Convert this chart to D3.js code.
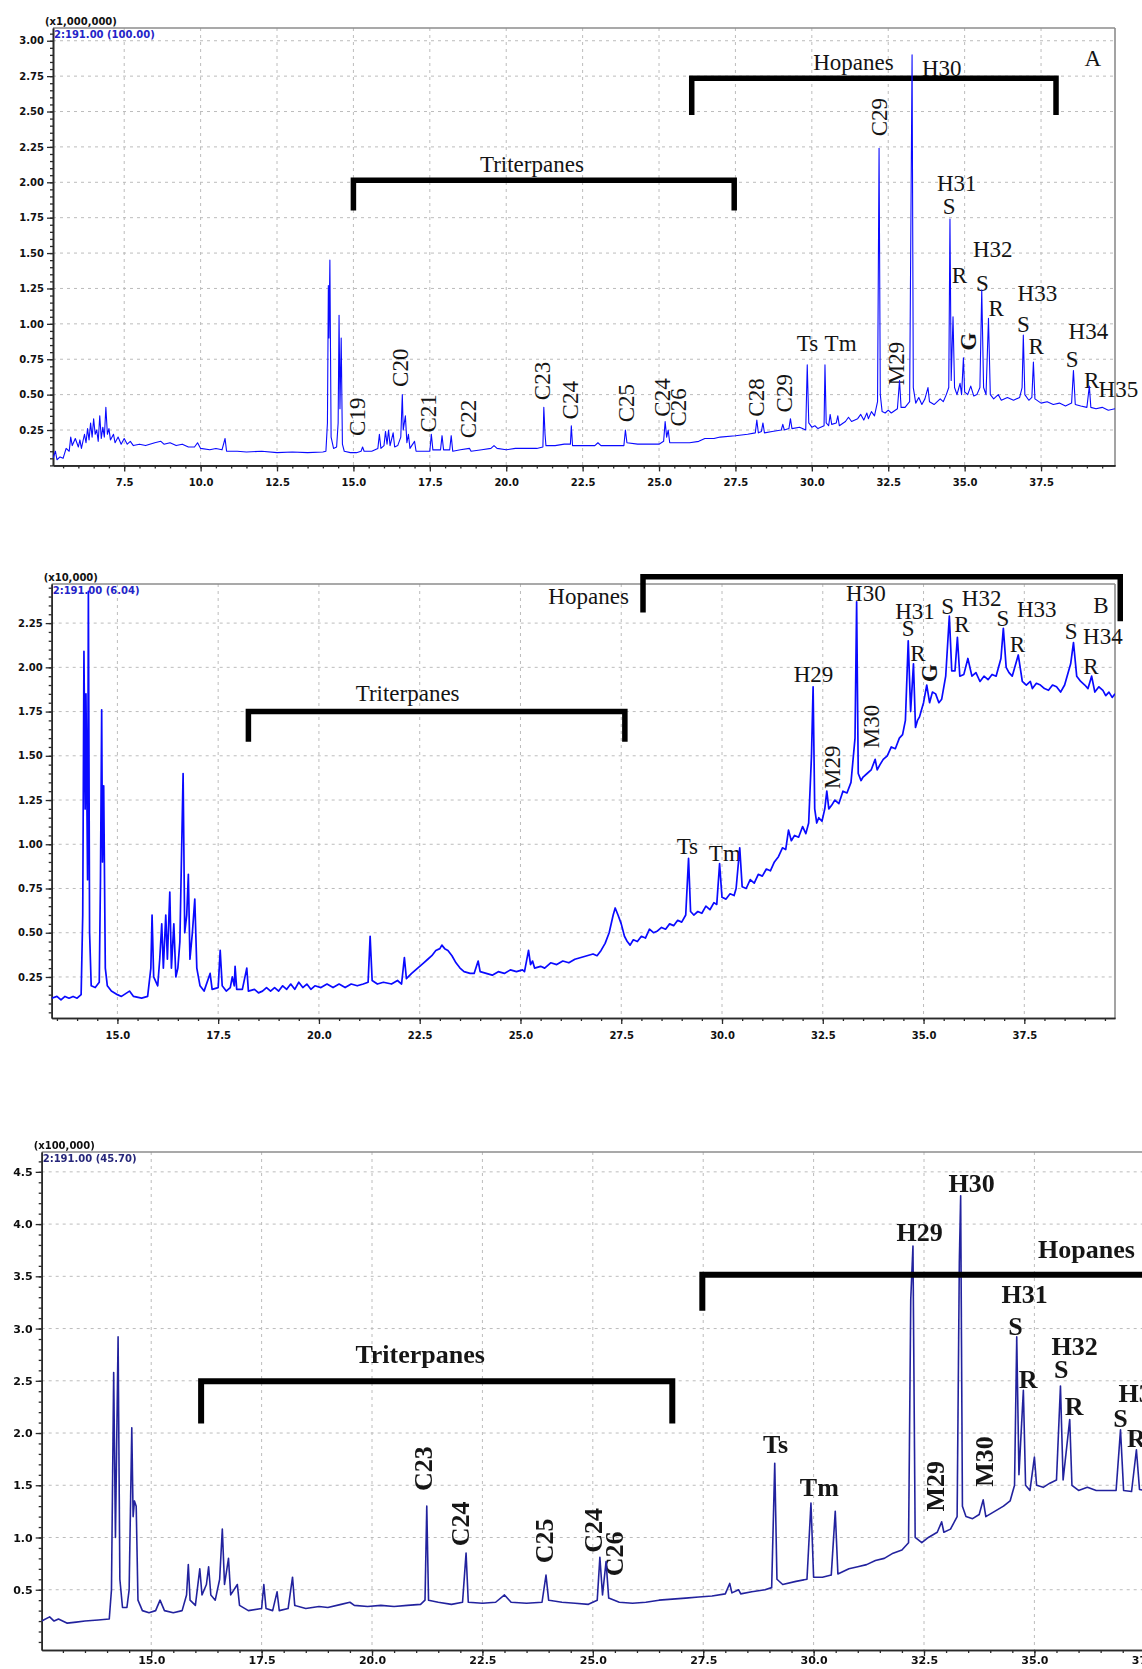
<!DOCTYPE html>
<html>
<head>
<meta charset="utf-8">
<script src="https://cdn.jsdelivr.net/npm/d3@7"></script>
<style>
  html, body { margin: 0; padding: 0; background: #ffffff; }
  svg { display: block; }
</style>
</head>
<body>
<svg id="chart" width="1142" height="1669"></svg>
<script>
// ================= Panel A : m/z 191 (x1,000,000) =================
const traceA = [
  [5.17,0.05],[5.25,0.10],[5.3,0.04],[5.4,0.06],[5.5,0.05],[5.6,0.12],[5.7,0.10],[5.75,0.20],[5.8,0.14],[5.9,0.19],
  [6.0,0.13],[6.05,0.18],[6.1,0.12],[6.2,0.22],[6.25,0.16],[6.3,0.26],[6.35,0.18],[6.4,0.30],[6.45,0.20],[6.5,0.33],
  [6.55,0.22],[6.6,0.25],[6.65,0.17],[6.7,0.35],[6.75,0.19],[6.8,0.27],[6.85,0.20],[6.9,0.41],[6.95,0.22],[7.0,0.26],
  [7.05,0.18],[7.15,0.22],[7.2,0.16],[7.3,0.20],[7.4,0.15],[7.5,0.19],[7.6,0.15],[7.7,0.17],[7.8,0.14],[8.0,0.15],
  [8.2,0.14],[8.5,0.16],[8.7,0.17],[8.8,0.15],[9.0,0.16],[9.2,0.14],[9.4,0.15],[9.6,0.13],[9.8,0.13],[9.9,0.16],
  [10.0,0.12],[10.3,0.11],[10.5,0.12],[10.7,0.11],[10.8,0.19],[10.85,0.10],[11.2,0.10],[11.5,0.095],[12.0,0.10],[12.5,0.09],
  [13.0,0.095],[13.5,0.09],[14.0,0.095],[14.1,0.10],
  [14.15,0.30],[14.18,1.27],[14.2,0.90],[14.23,1.45],[14.27,0.20],[14.35,0.12],[14.45,0.13],[14.5,0.30],[14.53,1.06],[14.56,0.40],
  [14.6,0.90],[14.64,0.15],[14.7,0.10],[14.9,0.09],[15.1,0.09],[15.25,0.10],[15.3,0.13],[15.35,0.10],[15.6,0.10],[15.8,0.12],
  [15.85,0.22],[15.9,0.12],[16.0,0.14],[16.05,0.24],[16.1,0.15],[16.15,0.25],[16.2,0.14],[16.3,0.23],[16.35,0.13],[16.45,0.14],
  [16.55,0.20],[16.6,0.50],[16.63,0.25],[16.7,0.35],[16.75,0.16],[16.8,0.22],[16.85,0.12],[17.0,0.17],[17.05,0.10],[17.3,0.10],
  [17.5,0.10],[17.55,0.22],[17.6,0.11],[17.85,0.11],[17.9,0.21],[17.95,0.11],[18.15,0.11],[18.2,0.21],[18.25,0.10],[18.5,0.11],
  [18.8,0.12],[18.85,0.10],[19.2,0.11],[19.5,0.12],[19.6,0.14],[19.7,0.12],[20.0,0.11],[20.3,0.12],[20.6,0.12],[21.0,0.12],
  [21.2,0.13],[21.23,0.41],[21.27,0.22],[21.3,0.14],[21.6,0.14],[21.9,0.15],[22.1,0.15],[22.13,0.28],[22.17,0.14],[22.5,0.14],
  [22.9,0.14],[23.0,0.16],[23.1,0.14],[23.5,0.14],[23.85,0.14],[23.9,0.25],[23.95,0.16],[24.3,0.15],[24.7,0.15],[25.0,0.15],
  [25.15,0.17],[25.2,0.31],[25.25,0.20],[25.3,0.25],[25.35,0.16],[25.7,0.16],[26.0,0.16],[26.3,0.17],[26.5,0.19],[26.8,0.19],
  [27.0,0.20],[27.5,0.21],[27.9,0.22],[28.15,0.23],[28.2,0.32],[28.25,0.23],[28.35,0.24],[28.4,0.30],[28.45,0.23],[28.7,0.24],
  [29.0,0.25],[29.05,0.29],[29.1,0.25],[29.25,0.26],[29.3,0.33],[29.35,0.26],[29.6,0.27],[29.8,0.25],[29.85,0.71],[29.9,0.30],
  [30.0,0.27],[30.1,0.28],[30.2,0.26],[30.4,0.28],[30.43,0.71],[30.47,0.30],[30.55,0.28],[30.6,0.36],[30.65,0.29],[30.8,0.30],
  [30.85,0.35],[30.9,0.28],[31.1,0.31],[31.2,0.34],[31.3,0.31],[31.5,0.33],[31.6,0.36],[31.7,0.32],[31.8,0.37],[31.85,0.33],
  [31.95,0.38],[32.05,0.35],[32.15,0.45],[32.2,2.24],[32.24,0.50],[32.3,0.38],[32.4,0.37],[32.5,0.39],[32.6,0.37],[32.8,0.40],
  [32.87,0.60],[32.92,0.41],[33.05,0.41],[33.2,0.45],[33.28,2.90],[33.32,0.55],[33.4,0.44],[33.5,0.48],[33.6,0.43],[33.7,0.47],
  [33.8,0.55],[33.85,0.45],[34.0,0.43],[34.2,0.47],[34.3,0.45],[34.4,0.50],[34.48,0.55],[34.52,1.74],[34.56,0.60],[34.62,1.05],
  [34.67,0.55],[34.75,0.50],[34.85,0.58],[34.9,0.50],[34.96,0.76],[35.0,0.52],[35.1,0.50],[35.2,0.56],[35.3,0.49],[35.4,0.50],
  [35.5,0.55],[35.56,1.24],[35.62,0.55],[35.7,0.50],[35.78,1.04],[35.84,0.50],[35.95,0.47],[36.1,0.50],[36.2,0.46],[36.4,0.48],
  [36.6,0.46],[36.8,0.48],[36.88,0.55],[36.92,0.92],[36.97,0.50],[37.1,0.46],[37.2,0.48],[37.25,0.73],[37.3,0.47],[37.5,0.44],
  [37.7,0.45],[37.9,0.43],[38.1,0.44],[38.3,0.42],[38.5,0.44],[38.56,0.67],[38.62,0.43],[38.8,0.42],[39.0,0.41],[39.08,0.56],
  [39.13,0.41],[39.3,0.40],[39.5,0.41],[39.7,0.39],[39.92,0.40]
];
const xTicksA = [7.5, 10.0, 12.5, 15.0, 17.5, 20.0, 22.5, 25.0, 27.5, 30.0, 32.5, 35.0, 37.5];
const yTicksA = [0.25, 0.50, 0.75, 1.00, 1.25, 1.50, 1.75, 2.00, 2.25, 2.50, 2.75, 3.00];
const peakLabelsA = [
  {text:"Hopanes", t:31.36, v:2.846}, {text:"H30", t:34.25, v:2.806}, {text:"A", t:39.19, v:2.877},
  {text:"Triterpanes", t:20.84, v:2.123},
  {text:"C29", t:32.2, v:2.46, rotate:true},
  {text:"C19", t:15.14, v:0.344, rotate:true}, {text:"C20", t:16.55, v:0.69, rotate:true},
  {text:"C21", t:17.45, v:0.368, rotate:true}, {text:"C22", t:18.77, v:0.328, rotate:true},
  {text:"C23", t:21.2, v:0.596, rotate:true}, {text:"C24", t:22.1, v:0.46, rotate:true},
  {text:"C25", t:23.95, v:0.44, rotate:true}, {text:"C24", t:25.1, v:0.48, rotate:true},
  {text:"C26", t:25.63, v:0.41, rotate:true}, {text:"C28", t:28.18, v:0.48, rotate:true},
  {text:"C29", t:29.1, v:0.51, rotate:true},
  {text:"Ts", t:29.86, v:0.863}, {text:"Tm", t:30.94, v:0.863},
  {text:"M29", t:32.78, v:0.72, rotate:true},
  {text:"H31", t:34.74, v:1.99}, {text:"S", t:34.49, v:1.83}, {text:"R", t:34.83, v:1.345},
  {text:"G", t:35.12, v:0.874, rotate:true, bold:true},
  {text:"H32", t:35.92, v:1.522}, {text:"S", t:35.58, v:1.287}, {text:"R", t:36.03, v:1.11},
  {text:"H33", t:37.38, v:1.216}, {text:"S", t:36.92, v:0.992}, {text:"R", t:37.34, v:0.839},
  {text:"H34", t:39.05, v:0.945}, {text:"S", t:38.52, v:0.75}, {text:"R", t:39.16, v:0.60},
  {text:"H35", t:40.03, v:0.533}
];
const bracketsA = [
  {t0:15.0, t1:27.46, top:2.015, foot0:1.80, foot1:1.80},
  {t0:26.07, t1:37.99, top:2.735, foot0:2.476, foot1:2.476}
];

// ================= Panel B : m/z 191 (x10,000) =================
const traceB = [
  [13.37,0.13],[13.5,0.14],[13.6,0.12],[13.7,0.14],[13.8,0.13],[13.9,0.14],[14.0,0.13],[14.1,0.15],[14.14,0.60],[14.17,2.09],
  [14.2,1.20],[14.22,1.85],[14.26,0.80],[14.28,2.43],[14.31,0.50],[14.35,0.20],[14.45,0.19],[14.55,0.22],[14.58,0.80],[14.61,1.76],
  [14.63,0.90],[14.66,1.33],[14.7,0.30],[14.75,0.20],[14.85,0.17],[15.0,0.15],[15.1,0.14],[15.3,0.17],[15.4,0.14],[15.6,0.13],
  [15.75,0.14],[15.83,0.30],[15.86,0.60],[15.9,0.25],[16.0,0.20],[16.05,0.35],[16.1,0.55],[16.14,0.30],[16.2,0.60],[16.24,0.35],
  [16.3,0.73],[16.34,0.30],[16.4,0.55],[16.45,0.25],[16.5,0.30],[16.55,0.45],[16.63,1.40],[16.67,0.50],[16.72,0.60],[16.76,0.83],
  [16.8,0.35],[16.86,0.50],[16.92,0.69],[16.97,0.30],[17.05,0.20],[17.15,0.17],[17.3,0.27],[17.35,0.18],[17.5,0.19],[17.55,0.40],
  [17.6,0.20],[17.7,0.17],[17.8,0.19],[17.85,0.25],[17.9,0.20],[17.92,0.31],[17.96,0.18],[18.1,0.18],[18.21,0.30],[18.25,0.17],
  [18.4,0.18],[18.5,0.16],[18.6,0.17],[18.7,0.19],[18.8,0.17],[18.9,0.19],[19.0,0.17],[19.1,0.20],[19.2,0.18],[19.3,0.21],
  [19.4,0.18],[19.5,0.22],[19.6,0.19],[19.7,0.21],[19.8,0.18],[19.9,0.20],[20.05,0.19],[20.2,0.21],[20.35,0.19],[20.5,0.21],
  [20.65,0.19],[20.8,0.21],[20.95,0.20],[21.1,0.21],[21.22,0.22],[21.27,0.48],[21.32,0.23],[21.45,0.21],[21.6,0.22],[21.8,0.21],
  [21.95,0.23],[22.05,0.21],[22.12,0.36],[22.17,0.24],[22.3,0.27],[22.4,0.29],[22.5,0.31],[22.6,0.33],[22.7,0.35],[22.8,0.37],
  [22.9,0.40],[23.0,0.41],[23.05,0.43],[23.12,0.41],[23.2,0.40],[23.3,0.37],[23.4,0.33],[23.5,0.30],[23.6,0.28],[23.75,0.27],
  [23.85,0.27],[23.95,0.34],[24.0,0.28],[24.15,0.27],[24.3,0.26],[24.45,0.28],[24.6,0.27],[24.75,0.29],[24.9,0.28],[25.05,0.29],
  [25.1,0.28],[25.2,0.40],[25.25,0.32],[25.3,0.34],[25.35,0.30],[25.5,0.31],[25.6,0.30],[25.75,0.33],[25.9,0.32],[26.05,0.34],
  [26.2,0.33],[26.35,0.35],[26.5,0.36],[26.65,0.37],[26.8,0.38],[26.9,0.37],[27.0,0.40],[27.1,0.44],[27.2,0.50],[27.3,0.60],
  [27.35,0.64],[27.42,0.60],[27.5,0.55],[27.58,0.48],[27.65,0.45],[27.72,0.43],[27.8,0.46],[27.9,0.45],[28.0,0.48],[28.1,0.47],
  [28.2,0.52],[28.3,0.50],[28.4,0.51],[28.5,0.53],[28.6,0.52],[28.7,0.55],[28.8,0.54],[28.9,0.57],[29.0,0.56],[29.1,0.60],
  [29.17,0.92],[29.22,0.62],[29.3,0.60],[29.4,0.62],[29.5,0.61],[29.6,0.65],[29.7,0.63],[29.8,0.67],[29.87,0.66],[29.94,0.89],
  [30.0,0.70],[30.1,0.69],[30.2,0.72],[30.3,0.71],[30.35,0.75],[30.44,0.98],[30.5,0.76],[30.6,0.75],[30.7,0.80],[30.8,0.78],
  [30.9,0.83],[31.0,0.82],[31.1,0.86],[31.2,0.85],[31.3,0.90],[31.4,0.93],[31.5,0.98],[31.58,0.97],[31.65,1.08],[31.72,1.02],
  [31.8,1.05],[31.9,1.04],[32.0,1.10],[32.08,1.06],[32.15,1.12],[32.22,1.50],[32.26,1.89],[32.3,1.20],[32.35,1.12],[32.4,1.15],
  [32.48,1.13],[32.55,1.20],[32.6,1.30],[32.65,1.20],[32.72,1.22],[32.8,1.25],[32.9,1.23],[33.0,1.30],[33.1,1.29],[33.2,1.35],
  [33.3,1.60],[33.34,2.37],[33.38,1.40],[33.45,1.36],[33.5,1.38],[33.6,1.40],[33.7,1.42],[33.8,1.48],[33.85,1.42],[33.92,1.45],
  [34.0,1.48],[34.1,1.50],[34.2,1.55],[34.3,1.54],[34.4,1.60],[34.48,1.62],[34.55,1.70],[34.62,2.15],[34.68,1.75],[34.75,2.02],
  [34.8,1.66],[34.85,1.70],[34.9,1.72],[34.95,1.76],[35.0,1.80],[35.08,1.90],[35.15,1.80],[35.22,1.86],[35.3,1.85],[35.38,1.80],
  [35.45,1.82],[35.55,1.95],[35.64,2.29],[35.7,1.98],[35.78,1.98],[35.84,2.17],[35.9,1.95],[36.0,1.96],[36.1,2.05],[36.2,1.95],
  [36.3,1.97],[36.4,1.92],[36.5,1.95],[36.6,1.93],[36.7,1.96],[36.8,1.95],[36.92,2.05],[36.98,2.22],[37.05,2.00],[37.12,1.97],
  [37.2,1.95],[37.35,2.07],[37.45,1.92],[37.55,1.90],[37.65,1.92],[37.7,1.88],[37.8,1.91],[37.9,1.90],[38.0,1.88],[38.1,1.87],
  [38.2,1.90],[38.3,1.89],[38.4,1.86],[38.5,1.90],[38.65,2.02],[38.72,2.14],[38.8,1.95],[38.9,1.92],[39.0,1.90],[39.08,1.88],
  [39.17,1.95],[39.25,1.86],[39.35,1.89],[39.45,1.87],[39.52,1.84],[39.6,1.86],[39.68,1.83],[39.75,1.85]
];
const xTicksB = [15.0, 17.5, 20.0, 22.5, 25.0, 27.5, 30.0, 32.5, 35.0, 37.5];
const yTicksB = [0.25, 0.50, 0.75, 1.00, 1.25, 1.50, 1.75, 2.00, 2.25];
const peakLabelsB = [
  {text:"Hopanes", t:26.69, v:2.398}, {text:"Triterpanes", t:22.2, v:1.85}, {text:"B", t:39.4, v:2.347},
  {text:"Ts", t:29.14, v:0.99}, {text:"Tm", t:30.07, v:0.947},
  {text:"H29", t:32.27, v:1.957}, {text:"M29", t:32.74, v:1.435, rotate:true},
  {text:"H30", t:33.57, v:2.419}, {text:"M30", t:33.71, v:1.665, rotate:true},
  {text:"H31", t:34.79, v:2.315}, {text:"S", t:34.62, v:2.221}, {text:"R", t:34.86, v:2.08},
  {text:"G", t:35.16, v:1.967, rotate:true, bold:true},
  {text:"S", t:35.6, v:2.343}, {text:"H32", t:36.44, v:2.39}, {text:"R", t:35.95, v:2.24},
  {text:"S", t:36.97, v:2.278}, {text:"H33", t:37.81, v:2.325}, {text:"R", t:37.33, v:2.127},
  {text:"S", t:38.66, v:2.202}, {text:"H34", t:39.45, v:2.174}, {text:"R", t:39.15, v:2.004}
];
const bracketsB = [
  {t0:18.25, t1:27.59, top:1.75, foot0:1.58, foot1:1.58},
  {t0:28.04, t1:39.88, top:2.512, foot0:2.31, foot1:2.26}
];

// ================= Panel C : m/z 191 (x100,000) =================
const traceC = [
  [12.52,0.20],[12.7,0.24],[12.8,0.20],[12.9,0.22],[13.1,0.18],[13.3,0.19],[13.5,0.20],[13.8,0.21],[14.05,0.22],[14.1,0.50],
  [14.15,2.58],[14.19,1.00],[14.25,2.92],[14.29,0.60],[14.35,0.33],[14.45,0.33],[14.5,0.50],[14.56,2.05],[14.59,1.20],[14.62,1.35],
  [14.66,1.30],[14.7,0.40],[14.8,0.30],[14.95,0.28],[15.1,0.30],[15.2,0.40],[15.3,0.30],[15.5,0.28],[15.7,0.30],[15.8,0.45],
  [15.84,0.74],[15.88,0.40],[16.0,0.35],[16.1,0.70],[16.15,0.45],[16.25,0.55],[16.3,0.72],[16.35,0.45],[16.45,0.40],[16.55,0.60],
  [16.61,1.08],[16.66,0.55],[16.75,0.80],[16.8,0.45],[16.95,0.55],[17.0,0.35],[17.2,0.30],[17.5,0.32],[17.55,0.55],[17.6,0.32],
  [17.75,0.30],[17.85,0.48],[17.9,0.30],[18.1,0.32],[18.2,0.62],[18.25,0.35],[18.5,0.32],[18.8,0.34],[19.0,0.33],[19.3,0.36],
  [19.5,0.38],[19.6,0.35],[19.9,0.34],[20.2,0.35],[20.5,0.34],[20.8,0.35],[21.1,0.36],[21.2,0.40],[21.24,1.30],[21.28,0.40],
  [21.5,0.38],[21.8,0.36],[22.05,0.38],[22.13,0.85],[22.18,0.38],[22.5,0.37],[22.8,0.38],[23.0,0.45],[23.15,0.38],[23.5,0.37],
  [23.85,0.38],[23.94,0.64],[24.0,0.40],[24.3,0.38],[24.6,0.37],[24.9,0.36],[25.1,0.40],[25.16,0.81],[25.22,0.45],[25.3,0.77],
  [25.36,0.42],[25.6,0.38],[25.9,0.37],[26.2,0.38],[26.5,0.40],[26.8,0.41],[27.1,0.42],[27.4,0.43],[27.7,0.44],[28.0,0.46],
  [28.1,0.56],[28.15,0.47],[28.3,0.50],[28.35,0.46],[28.6,0.48],[28.9,0.50],[29.05,0.52],[29.12,1.71],[29.17,0.60],[29.3,0.55],
  [29.6,0.58],[29.85,0.60],[29.94,1.33],[30.0,0.62],[30.2,0.62],[30.4,0.64],[30.49,1.25],[30.55,0.65],[30.8,0.70],[31.0,0.72],
  [31.2,0.74],[31.4,0.78],[31.6,0.80],[31.8,0.85],[32.0,0.88],[32.15,0.95],[32.2,3.28],[32.25,3.79],[32.3,1.00],[32.45,0.95],
  [32.6,1.00],[32.8,1.05],[32.9,1.15],[32.95,1.05],[33.1,1.08],[33.25,1.20],[33.3,3.64],[33.33,4.27],[33.37,1.30],[33.45,1.20],
  [33.6,1.18],[33.75,1.22],[33.84,1.36],[33.9,1.20],[34.1,1.25],[34.3,1.30],[34.45,1.35],[34.55,1.50],[34.6,2.92],[34.65,1.60],
  [34.75,2.41],[34.8,1.50],[34.9,1.45],[35.0,1.77],[35.05,1.50],[35.2,1.48],[35.35,1.52],[35.5,1.55],[35.59,2.45],[35.65,1.55],
  [35.8,2.13],[35.85,1.50],[36.0,1.45],[36.2,1.48],[36.4,1.45],[36.6,1.45],[36.85,1.45],[36.95,2.03],[37.02,1.45],[37.2,1.44],
  [37.31,1.84],[37.38,1.46],[37.5,1.45]
];
const xTicksC = [15.0, 17.5, 20.0, 22.5, 25.0, 27.5, 30.0, 32.5, 35.0, 37.5];
const yTicksC = [0.5, 1.0, 1.5, 2.0, 2.5, 3.0, 3.5, 4.0, 4.5];
const peakLabelsC = [
  {text:"Hopanes", t:36.18, v:3.755}, {text:"Triterpanes", t:21.09, v:2.75},
  {text:"H30", t:33.58, v:4.39}, {text:"H29", t:32.4, v:3.915},
  {text:"H31", t:34.78, v:3.324}, {text:"S", t:34.57, v:3.02}, {text:"R", t:34.86, v:2.51},
  {text:"H32", t:35.91, v:2.829}, {text:"S", t:35.61, v:2.605}, {text:"R", t:35.9, v:2.254},
  {text:"H33", t:37.43, v:2.38}, {text:"S", t:36.95, v:2.14}, {text:"R", t:37.31, v:1.95},
  {text:"M29", t:32.77, v:1.49, rotate:true}, {text:"M30", t:33.88, v:1.727, rotate:true},
  {text:"Ts", t:29.14, v:1.894}, {text:"Tm", t:30.13, v:1.476},
  {text:"C23", t:21.16, v:1.66, rotate:true}, {text:"C24", t:22.0, v:1.13, rotate:true},
  {text:"C25", t:23.91, v:0.967, rotate:true}, {text:"C24", t:25.02, v:1.068, rotate:true},
  {text:"C26", t:25.5, v:0.844, rotate:true}
];
const bracketsC = [
  {t0:16.13, t1:26.8, top:2.495, foot0:2.09, foot1:2.09},
  {t0:27.48, t1:40.5, top:3.515, foot0:3.17, foot1:3.515}
];

const scaleNotes = ["(x1,000,000)", "(x10,000)", "(x100,000)"];
const ionNotes = ["2:191.00 (100.00)", "2:191.00 (6.04)", "2:191.00 (45.70)"];

// ================= drawing =================
const svg = d3.select("#chart");
const defs = svg.append("defs");
defs.append("filter").attr("id", "soft")
  .attr("x", "-2%").attr("y", "-2%").attr("width", "104%").attr("height", "104%")
  .append("feGaussianBlur").attr("stdDeviation", 0.6);

function drawPanel(cfg) {
  const g = svg.append("g").attr("class", "panel-" + cfg.id);
  if (cfg.soft) g.attr("filter", "url(#soft)");

  const x = d3.scaleLinear().domain(cfg.xDomain).range([cfg.left, cfg.right]);
  const y = d3.scaleLinear().domain(cfg.yDomain).range([cfg.bottom, cfg.top]);

  // dashed grid
  const grid = g.append("g").attr("stroke", "#bcbcbc").attr("stroke-dasharray", "3,4").attr("stroke-width", 1);
  grid.selectAll("line.gx").data(cfg.xTicks).join("line").attr("class", "gx")
    .attr("x1", d => x(d)).attr("x2", d => x(d)).attr("y1", cfg.top).attr("y2", cfg.bottom);
  grid.selectAll("line.gy").data(cfg.yTicks).join("line").attr("class", "gy")
    .attr("x1", cfg.left).attr("x2", cfg.right).attr("y1", d => y(d)).attr("y2", d => y(d));

  // frame (top and right)
  g.append("line").attr("x1", cfg.left).attr("x2", cfg.right).attr("y1", cfg.top).attr("y2", cfg.top)
    .attr("stroke", "#8c8c8c").attr("stroke-width", 1.6);
  g.append("line").attr("x1", cfg.right).attr("x2", cfg.right).attr("y1", cfg.top).attr("y2", cfg.bottom)
    .attr("stroke", "#8c8c8c").attr("stroke-width", 1.6);

  // axes
  const fmt = d3.format(cfg.fmt);
  const yMinor = d3.range(Math.ceil(cfg.yDomain[0] / cfg.yMinorStep) * cfg.yMinorStep, cfg.yDomain[1], cfg.yMinorStep);
  const xMinor = d3.range(Math.ceil(cfg.xDomain[0] / 0.5) * 0.5, cfg.xDomain[1], 0.5);

  const styleAxis = sel => {
    sel.select(".domain").attr("stroke", "#2a2a2a").attr("stroke-width", 1.6);
    sel.selectAll(".tick line").attr("stroke", "#2a2a2a").attr("stroke-width", 1.3);
    sel.selectAll(".tick text").attr("font-family", "'DejaVu Sans', Arial, sans-serif")
      .attr("font-weight", "bold").attr("font-size", cfg.tickFont).attr("fill", "#111");
  };

  g.append("g").attr("transform", `translate(${cfg.left},0)`)
    .call(d3.axisLeft(y).tickValues(yMinor).tickFormat("").tickSize(3).tickSizeOuter(0))
    .call(styleAxis);
  g.append("g").attr("transform", `translate(${cfg.left},0)`)
    .call(d3.axisLeft(y).tickValues(cfg.yTicks).tickFormat(fmt).tickSize(6).tickSizeOuter(0).tickPadding(3))
    .call(styleAxis);
  g.append("g").attr("transform", `translate(0,${cfg.bottom})`)
    .call(d3.axisBottom(x).tickValues(xMinor).tickFormat("").tickSize(3).tickSizeOuter(0))
    .call(styleAxis);
  g.append("g").attr("transform", `translate(0,${cfg.bottom})`)
    .call(d3.axisBottom(x).tickValues(cfg.xTicks).tickFormat(d3.format(".1f")).tickSize(6).tickSizeOuter(0).tickPadding(cfg.xPad))
    .call(styleAxis);

  // multiplier and ion notes
  g.append("text").attr("x", cfg.left - 8).attr("y", cfg.top - 3)
    .attr("font-family", "'DejaVu Sans', Arial, sans-serif").attr("font-weight", "bold")
    .attr("font-size", 10).attr("fill", "#111").text(cfg.scaleNote);
  g.append("text").attr("x", cfg.left + 1).attr("y", cfg.top + 10)
    .attr("font-family", "'DejaVu Sans', Arial, sans-serif").attr("font-weight", "bold")
    .attr("font-size", 10).attr("fill", cfg.noteColor).text(cfg.ionNote);

  // labels
  const labels = g.append("g").attr("font-family", "'Liberation Serif', 'Times New Roman', serif")
    .attr("font-size", cfg.labelFont).attr("fill", "#141414")
    .attr("font-weight", cfg.labelBold ? "bold" : "normal");
  labels.selectAll("text").data(cfg.labels).join("text")
    .attr("text-anchor", "middle").attr("dominant-baseline", "central")
    .attr("font-weight", d => d.bold ? "bold" : null)
    .attr("transform", d => `translate(${x(d.t)},${y(d.v)})` + (d.rotate ? " rotate(-90)" : ""))
    .text(d => d.text);

  // group brackets
  const bracketPath = d => `M${x(d.t0)},${y(d.foot0)}V${y(d.top)}H${x(d.t1)}V${y(d.foot1)}`;
  const drawBrackets = () => g.append("g").selectAll("path").data(cfg.brackets).join("path")
    .attr("d", bracketPath).attr("fill", "none").attr("stroke", "#000")
    .attr("stroke-width", cfg.bracketWidth).attr("stroke-linejoin", "miter");

  if (!cfg.bracketsOnTop) drawBrackets();

  // trace
  const clipId = "clip-" + cfg.id;
  defs.append("clipPath").attr("id", clipId).append("rect")
    .attr("x", cfg.left).attr("y", cfg.top).attr("width", cfg.right - cfg.left).attr("height", cfg.bottom - cfg.top);
  const line = d3.line().x(d => x(d[0])).y(d => y(d[1]));
  g.append("path").datum(cfg.trace).attr("clip-path", `url(#${clipId})`)
    .attr("d", line).attr("fill", "none").attr("stroke", cfg.traceColor)
    .attr("stroke-width", cfg.traceWidth).attr("stroke-linejoin", "round");

  if (cfg.bracketsOnTop) drawBrackets();
}

drawPanel({
  id: "A", trace: traceA, labels: peakLabelsA, brackets: bracketsA,
  xTicks: xTicksA, yTicks: yTicksA, fmt: ".2f", yMinorStep: 0.05,
  xDomain: [5.17, 39.92], yDomain: [0, 3.09],
  left: 53, right: 1115, top: 28, bottom: 465.4,
  tickFont: 10, xPad: 8, labelFont: 23, labelBold: false, bracketWidth: 5.5,
  traceColor: "#0a0aff", traceWidth: 1.1, noteColor: "#2424c8",
  scaleNote: scaleNotes[0], ionNote: ionNotes[0]
});

drawPanel({
  id: "B", trace: traceB, labels: peakLabelsB, brackets: bracketsB,
  xTicks: xTicksB, yTicks: yTicksB, fmt: ".2f", yMinorStep: 0.05,
  xDomain: [13.37, 39.75], yDomain: [0.018, 2.471],
  left: 51.7, right: 1115, top: 584, bottom: 1018,
  tickFont: 10, xPad: 8, labelFont: 23, labelBold: false, bracketWidth: 5.5,
  traceColor: "#0a0aff", traceWidth: 1.7, noteColor: "#2424c8",
  scaleNote: scaleNotes[1], ionNote: ionNotes[1]
});

drawPanel({
  id: "C", trace: traceC, labels: peakLabelsC, brackets: bracketsC,
  xTicks: xTicksC, yTicks: yTicksC, fmt: ".1f", yMinorStep: 0.1,
  xDomain: [12.52, 38.75], yDomain: [-0.077, 4.69],
  left: 41.7, right: 1200, top: 1152, bottom: 1650,
  tickFont: 11, xPad: 0, labelFont: 26, labelBold: true, bracketWidth: 6,
  traceColor: "#23239e", traceWidth: 1.6, noteColor: "#26267a", bracketsOnTop: true, soft: true,
  scaleNote: scaleNotes[2], ionNote: ionNotes[2]
});
</script>
</body>
</html>
